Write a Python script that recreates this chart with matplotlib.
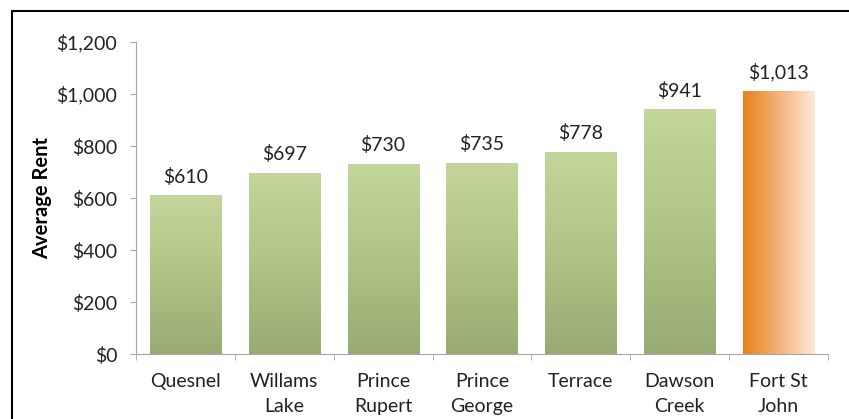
import numpy as np
import matplotlib
matplotlib.use("Agg")
import matplotlib.pyplot as plt
from matplotlib.colors import LinearSegmentedColormap
from matplotlib.patches import Rectangle

# данные
cities = ["Quesnel", "Willams\nLake", "Prince\nRupert", "Prince\nGeorge",
          "Terrace", "Dawson\nCreek", "Fort St\nJohn"]
rent = [610, 697, 730, 735, 778, 941, 1013]
highlight = "Fort St\nJohn"
yticks = [0, 200, 400, 600, 800, 1000, 1200]

plt.rcParams['font.family'] = ['Lato', 'DejaVu Sans']

fig = plt.figure(figsize=(8.49, 4.19), dpi=100)
ax = fig.add_axes([136 / 849, 1 - 354 / 419, (828 - 136) / 849, (354 - 42) / 419])

green = LinearSegmentedColormap.from_list("g", ["#97ab74", "#b0c486", "#c3d69b"])
orange = LinearSegmentedColormap.from_list("o", ["#e8821a", "#f3b27a", "#fde9da"])

x = np.arange(len(cities))
bars = ax.bar(x, rent, width=0.72, color="none", edgecolor="none", zorder=2)
for b, name in zip(bars, cities):
    x0, w, h = b.get_x(), b.get_width(), b.get_height()
    if name == highlight:
        grad = np.linspace(0, 1, 256).reshape(1, -1)
        cmap = orange
    else:
        grad = np.linspace(0, 1, 256).reshape(-1, 1)
        cmap = green
    im = ax.imshow(grad, cmap=cmap, aspect="auto", origin="lower",
                   extent=(x0, x0 + w, 0, h), zorder=2)
    im.set_clip_path(b)
    ax.annotate(f"${h:,.0f}", (x0 + w / 2, h), xytext=(0, 7), textcoords="offset points",
                ha="center", va="bottom", fontsize=14, color="#222222")

ax.set_xlim(-0.5, len(cities) - 0.5)
ax.set_ylim(0, 1200)
ax.set_yticks(yticks)
ax.set_yticklabels([f"${v:,}" for v in yticks], fontsize=14, color="#222222")
ax.set_xticks(x)
ax.set_xticklabels(cities, fontsize=14, linespacing=1.55, color="#222222")
ax.set_xticks(np.arange(len(cities) + 1) - 0.5, minor=True)
ax.tick_params(axis="x", which="major", length=0, pad=14)
ax.tick_params(axis="x", which="minor", length=4.5, color="#a6a6a6", direction="out")
ax.tick_params(axis="y", length=4.5, color="#a6a6a6", pad=9)
for s in ["top", "right"]:
    ax.spines[s].set_visible(False)
for s in ["left", "bottom"]:
    ax.spines[s].set_color("#a6a6a6")
ax.set_ylabel("Average Rent", fontsize=14.5, fontweight="bold", va="center")
ax.yaxis.set_label_coords(-94 / 692, 0.5)

fig.patches.append(Rectangle((12 / 849, -0.1), 1.0, 1.1 - 11 / 419,
                             transform=fig.transFigure, fill=False,
                             edgecolor="black", linewidth=1.5))

fig.savefig("out.png", dpi=100)
